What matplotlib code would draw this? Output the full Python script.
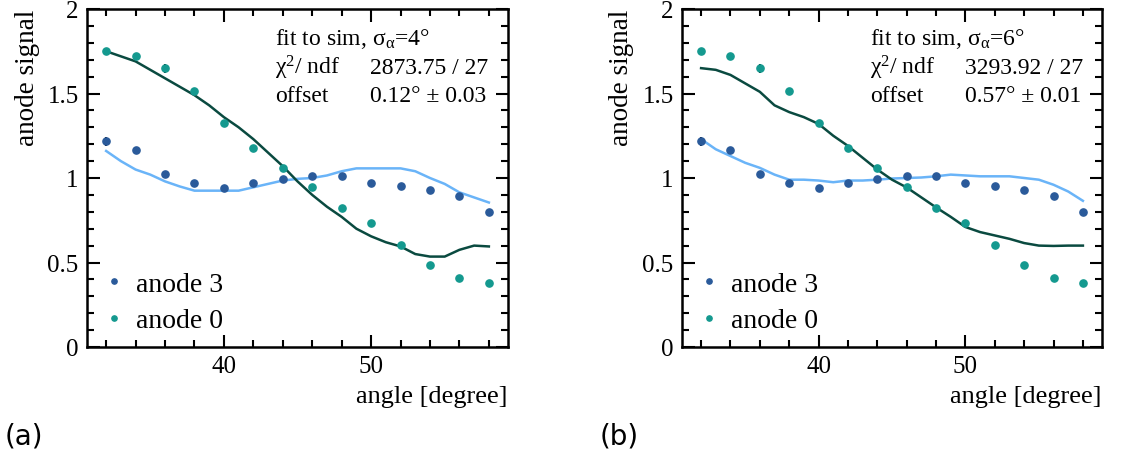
import matplotlib
matplotlib.use("Agg")
import matplotlib.pyplot as plt
import numpy as np
from matplotlib.ticker import MultipleLocator

angles = [32, 34, 36, 38, 40, 42, 44, 46, 48, 50, 52, 54, 56, 58]
anode0 = [1.75, 1.724, 1.649, 1.517, 1.327, 1.179, 1.057, 0.945, 0.822, 0.732, 0.604, 0.487, 0.406, 0.380]
anode3 = [1.217, 1.166, 1.025, 0.970, 0.939, 0.972, 0.994, 1.014, 1.014, 0.972, 0.950, 0.931, 0.892, 0.797]
err0 = [0.01, 0.01, 0.025, 0.015, 0.01, 0.01, 0.01, 0.01, 0.01, 0.01, 0.01, 0.01, 0.01, 0.01]
err3 = [0.025, 0.02, 0.01, 0.01, 0.01, 0.01, 0.01, 0.01, 0.01, 0.01, 0.01, 0.01, 0.01, 0.01]

fit_x = list(range(32, 59))
fitA_0 = [1.75, 1.72, 1.69, 1.64, 1.59, 1.54, 1.49, 1.43, 1.36, 1.30, 1.23, 1.15, 1.07, 0.98,
          0.90, 0.83, 0.77, 0.70, 0.655, 0.62, 0.595, 0.55, 0.535, 0.535, 0.575, 0.60, 0.595]
fitA_3 = [1.16, 1.10, 1.05, 1.02, 0.98, 0.95, 0.925, 0.925, 0.925, 0.925, 0.945, 0.965, 0.985, 0.995,
          1.00, 1.015, 1.04, 1.057, 1.057, 1.057, 1.057, 1.04, 1.00, 0.965, 0.915, 0.885, 0.855]
fitB_0 = [1.65, 1.64, 1.61, 1.56, 1.51, 1.43, 1.39, 1.36, 1.32, 1.25, 1.19, 1.12, 1.05, 0.99,
          0.944, 0.885, 0.826, 0.77, 0.71, 0.68, 0.66, 0.64, 0.615, 0.60, 0.598, 0.60, 0.60]
fitB_3 = [1.23, 1.17, 1.13, 1.09, 1.06, 1.02, 0.99, 0.99, 0.985, 0.975, 0.985, 0.985, 0.99, 0.997,
          1.00, 1.003, 1.01, 1.02, 1.015, 1.01, 1.01, 1.01, 1.00, 0.99, 0.96, 0.92, 0.865]

panels = [
    ("(a)", "4", "2873.75 / 27", "0.12° ± 0.03", fitA_0, fitA_3),
    ("(b)", "6", "3293.92 / 27", "0.57° ± 0.01", fitB_0, fitB_3),
]

C3 = "#2a5a9a"
C0 = "#14998f"
CF0 = "#0a4a40"
CF3 = "#6ab4f8"

plt.rcParams['font.family'] = ['Liberation Serif', 'DejaVu Serif']
plt.rcParams['mathtext.fontset'] = 'custom'
plt.rcParams['mathtext.rm'] = 'Liberation Serif'
plt.rcParams['mathtext.it'] = 'Liberation Serif:italic'

fig = plt.figure(figsize=(11.32, 4.6), dpi=100)
W, H = 1132, 460
axes_px = [(87, 508), (682, 1102)]
top, bot = 10, 348

for (lab, sig, chi, off, f0, f3), (l, r) in zip(panels, axes_px):
    ax = fig.add_axes([l / W, 1 - bot / H, (r - l) / W, (bot - top) / H])
    ax.plot(fit_x, f3, color=CF3, lw=1.8, zorder=2)
    ax.plot(fit_x, f0, color=CF0, lw=1.8, zorder=2)
    ax.errorbar(angles, anode3, yerr=err3, fmt='o', color=C3, ms=5.2, ecolor='black',
                elinewidth=1.5, capsize=0, zorder=3)
    ax.errorbar(angles, anode0, yerr=err0, fmt='o', color=C0, ms=5.2, ecolor='black',
                elinewidth=1.5, capsize=0, zorder=3)
    ax.plot([], [], 'o', color=C3, ms=3.8, label="anode 3")
    ax.plot([], [], 'o', color=C0, ms=3.8, label="anode 0")
    ax.set_xlim(30.7, 59.3)
    ax.set_ylim(0, 2)
    ax.xaxis.set_major_locator(MultipleLocator(10))
    ax.xaxis.set_minor_locator(MultipleLocator(2))
    ax.yaxis.set_major_locator(MultipleLocator(0.5))
    ax.yaxis.set_minor_locator(MultipleLocator(0.1))
    ax.set_yticks([0, 0.5, 1, 1.5, 2])
    ax.set_yticklabels(["0", "0.5", "1", "1.5", "2"])
    ax.tick_params(which='both', direction='in', top=True, right=True, labelsize=18, width=1.5)
    ax.tick_params(which='major', length=9, pad=6)
    ax.tick_params(which='minor', length=5)
    for s in ax.spines.values():
        s.set_linewidth(1.8)
    fig.text((l - 60) / W, 1 - top / H, "anode signal", rotation=90, fontsize=19.5,
             ha='center', va='top')
    fig.text(r / W, 1 - 397 / H, "angle [degree]", fontsize=19, ha='right', va='center')
    ax.legend(loc='lower left', bbox_to_anchor=(-0.015, -0.009), frameon=False, fontsize=20,
              handletextpad=0.2, handlelength=1.2, borderaxespad=0.2, labelspacing=0.39)
    x1 = 188 / (r - l)
    x2 = 283 / (r - l)
    ys = [(45 - top), (74 - top), (102 - top)]
    yf = [1 - y / (bot - top) for y in ys]
    fs = 17
    ax.text(x1, yf[0], "fit to sim, σ$_{\\mathregular{α}}$=" + sig + "°", transform=ax.transAxes, fontsize=fs, va='baseline')
    ax.text(x1, yf[1], "χ$^{\\mathregular{2}}$/ ndf", transform=ax.transAxes, fontsize=fs, va='baseline')
    ax.text(x2, yf[1], chi, transform=ax.transAxes, fontsize=fs, va='baseline')
    ax.text(x1, yf[2], "offset", transform=ax.transAxes, fontsize=fs, va='baseline')
    ax.text(x2, yf[2], off, transform=ax.transAxes, fontsize=fs, va='baseline')
    fig.text((l - 82) / W, 1 - 437 / H, lab, fontsize=20, family=['DejaVu Sans'], va='center')

fig.savefig("out.png", dpi=100)
